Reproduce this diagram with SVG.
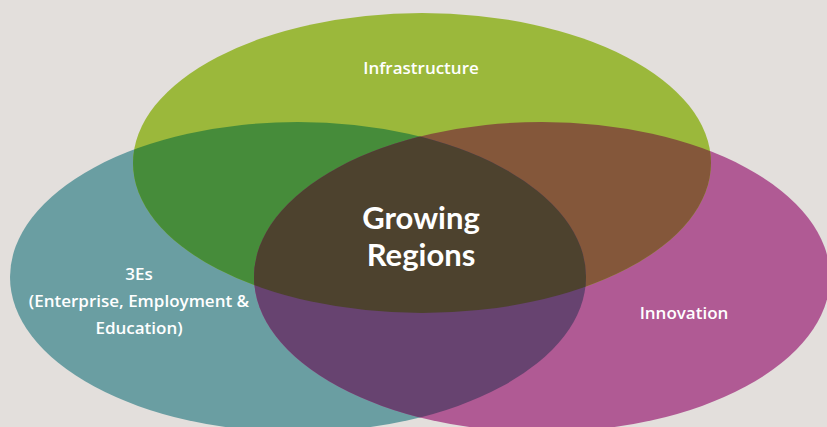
<svg xmlns="http://www.w3.org/2000/svg" width="827" height="427" viewBox="0 0 827 427">
<style>
.lbl{font-family:"Open Sans","Noto Sans","Liberation Sans",sans-serif;font-weight:600;fill:#ffffff;text-anchor:middle}
.sm{font-size:17px}
.big{font-family:Lato,"Open Sans","Liberation Sans",sans-serif;font-weight:700;font-size:31px}
</style>
<defs>
<ellipse id="eG" cx="422" cy="163" rx="289" ry="150"/>
<ellipse id="eT" cx="298" cy="277" rx="288" ry="155"/>
<ellipse id="eM" cx="542" cy="277" rx="288" ry="155"/>
<clipPath id="cG"><use href="#eG"/></clipPath>
<clipPath id="cT"><use href="#eT"/></clipPath>
</defs>
<rect width="827" height="427" fill="#e3dfdc"/>
<g id="node-3es"><use href="#eT" fill="#6a9ea2"/></g>
<g id="node-innovation"><use href="#eM" fill="#b05a94"/></g>
<g id="node-infrastructure"><use href="#eG" fill="#9bb83b"/></g>
<g id="overlaps">
<use href="#eT" fill="#468c3a" clip-path="url(#cG)"/>
<use href="#eM" fill="#84573a" clip-path="url(#cG)"/>
<use href="#eM" fill="#674370" clip-path="url(#cT)"/>
<g clip-path="url(#cT)"><use href="#eM" fill="#4d422e" clip-path="url(#cG)"/></g>
</g>
<g id="labels">
<text class="lbl sm" x="421" y="74">Infrastructure</text>
<text class="lbl big" x="421" y="229">Growing</text>
<text class="lbl big" x="421" y="266">Regions</text>
<text class="lbl sm" x="139" y="280">3Es</text>
<text class="lbl sm" x="139" y="307">(Enterprise, Employment &amp;</text>
<text class="lbl sm" x="139" y="334">Education)</text>
<text class="lbl sm" x="684" y="319">Innovation</text>
</g>
</svg>
